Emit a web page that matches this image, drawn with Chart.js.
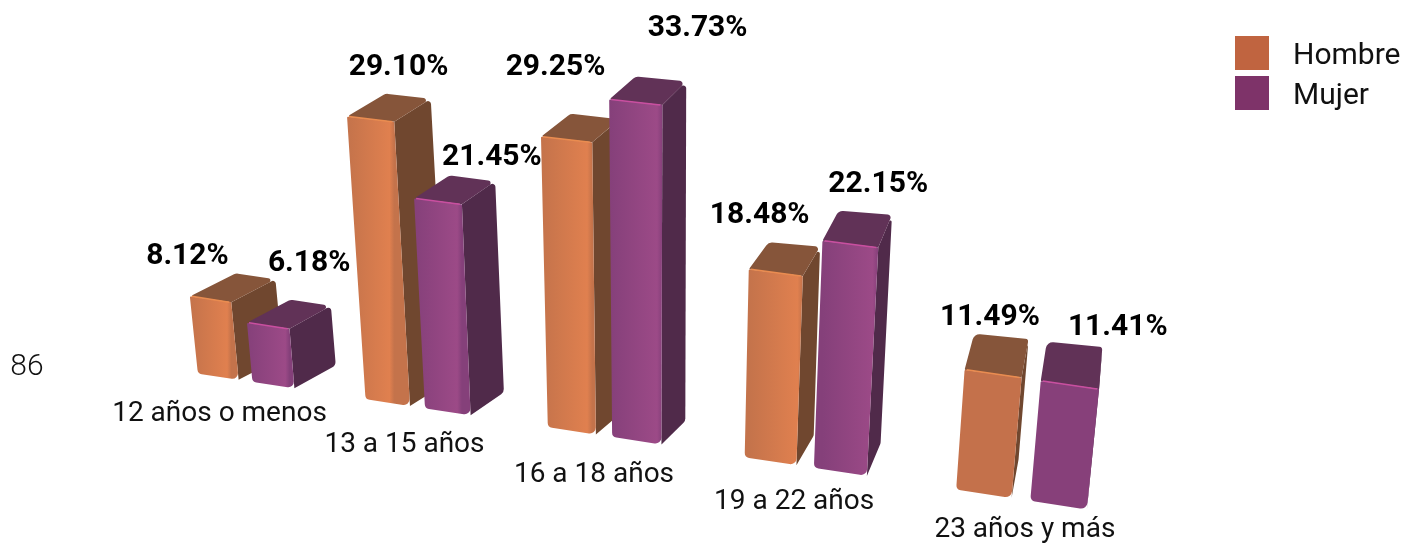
<!DOCTYPE html>
<html lang="es">
<head>
<meta charset="utf-8">
<title>Edad por sexo</title>
<script src="https://cdn.jsdelivr.net/npm/chart.js@4/dist/chart.umd.min.js"></script>
<style>
    html, body { margin: 0; padding: 0; background: #fff; }
    #wrap { position: relative; width: 1404px; height: 545px; overflow: hidden; }
</style>
</head>
<body>
<div id="wrap"><canvas id="edadChart"></canvas></div>
<script>
// Chart data
const categories = ['12 años o menos', '13 a 15 años', '16 a 18 años', '19 a 22 años', '23 años y más'];
const hombre = [8.12, 29.10, 29.25, 18.48, 11.49];
const mujer = [6.18, 21.45, 33.73, 22.15, 11.41];
const seriesNames = ['Hombre', 'Mujer'];
const strayLabel = '86';

// Look of each series
const looks = [
    { legend: '#c06440', left: '#c4734b', right: '#e0804f', flat: '#c4714b', top: '#86553a', side: '#70472f', edge: '#ea8c50' },
    { legend: '#7e3369', left: '#85407a', right: '#9c4a87', flat: '#87407a', top: '#613257', side: '#502a4a', edge: '#c94fa0' }
];

// Where the percent labels sit, relative to the top of the front face
const labelShift = [
    [[-23, -43], [28, -52], [-11, -72], [-16, -57], [-3, -56]],
    [[41, -62], [54, -44], [62, -74], [28, -60], [48, -57]]
];
const tickShift = [[-26, 33], [-13, 38], [-10, 39], [-11, 36], [4, 31]];

const midX = 606;
const step = 194;
const baseY = 436;

// Fake perspective: turns a flat chart position into a position in the picture
function project(x, y) {
    const h = baseY - y;
    const t = (x - midX) / step;
    const xb = x + 7.3 * t * t;
    const grow = 1 + (xb - midX) * 0.00012;
    return {
        x: 650 + (xb - 650) * (1 + 0.00023 * h * grow),
        y: baseY + 0.153 * (xb - midX) - h * grow
    };
}

function depthAt(x) {
    return { x: (1170 - x) * 0.047, y: -23 - Math.max(0, x - 650) * 0.042 };
}

function plus(p, d) {
    return { x: p.x + d.x, y: p.y + d.y };
}

// Closed path with rounded corners. The cut along each edge is clamped,
// otherwise sharp corners on thin faces throw spikes.
function shape(ctx, pts, radii) {
    const n = pts.length;
    ctx.beginPath();
    ctx.moveTo((pts[0].x + pts[n - 1].x) / 2, (pts[0].y + pts[n - 1].y) / 2);
    for (let i = 0; i < n; i++) {
        const a = pts[i];
        const b = pts[(i + 1) % n];
        const c = pts[(i + n - 1) % n];
        const lenB = Math.hypot(b.x - a.x, b.y - a.y);
        const lenC = Math.hypot(c.x - a.x, c.y - a.y);
        const cos = ((b.x - a.x) * (c.x - a.x) + (b.y - a.y) * (c.y - a.y)) / (lenB * lenC);
        const half = Math.tan(Math.acos(Math.max(-1, Math.min(1, cos))) / 2);
        const cut = Math.min(radii[i] / half, 7, lenB * 0.4, lenC * 0.4);
        ctx.arcTo(a.x, a.y, b.x, b.y, cut * half);
    }
    ctx.closePath();
}

const bars3d = {
    id: 'bars3d',
    afterDatasetsDraw(chart) {
        const ctx = chart.ctx;
        ctx.save();

        chart.data.datasets.forEach(function(ds, di) {
            const look = looks[di];
            chart.getDatasetMeta(di).data.forEach(function(bar, i) {
                const p = bar.getProps(['x', 'y', 'base', 'width'], true);
                const l = p.x - p.width / 2;
                const r = p.x + p.width / 2;
                const tl = project(l, p.y);
                const tr = project(r, p.y);
                const br = project(r, p.base);
                const bl = project(l, p.base);
                const d = depthAt(tr.x);
                const dl = depthAt(tl.x);

                // side face
                shape(ctx, [tr, plus(tr, d), plus(br, d), br], [0, 3, 6, 0]);
                ctx.fillStyle = look.side;
                ctx.fill();

                // top face
                shape(ctx, [tl, plus(tl, dl), plus(tr, d), tr], [1, 7, 3, 0]);
                ctx.fillStyle = look.top;
                ctx.fill();

                // front face, the shine fades out towards the far groups
                const g = ctx.createLinearGradient(tl.x, 0, tr.x, 0);
                const fade = i > 3;
                g.addColorStop(0, fade ? look.flat : look.left);
                g.addColorStop(0.9, fade ? look.flat : look.right);
                g.addColorStop(1, fade ? look.flat : look.left);
                shape(ctx, [tl, tr, br, bl], [1, 1, 7, 5]);
                ctx.fillStyle = g;
                ctx.fill();

                // bright line on the top edge
                ctx.beginPath();
                ctx.moveTo(tl.x + 2, tl.y);
                ctx.lineTo(tr.x - 2, tr.y);
                ctx.strokeStyle = look.edge;
                ctx.lineWidth = 1.5;
                ctx.stroke();
            });
        });

        // percent labels go on top of all the bars
        ctx.fillStyle = '#000';
        ctx.textAlign = 'center';
        ctx.textBaseline = 'middle';
        ctx.font = '700 30px Roboto';
        chart.data.datasets.forEach(function(ds, di) {
            chart.getDatasetMeta(di).data.forEach(function(bar, i) {
                const top = project(bar.x, bar.y);
                const s = labelShift[di][i];
                ctx.fillText(ds.data[i].toFixed(2) + '%', top.x + s[0], top.y + s[1]);
            });
        });

        // category labels follow the slanted floor
        ctx.font = '400 28px Roboto';
        ctx.fillStyle = '#111';
        const xScale = chart.scales.x;
        const yScale = chart.scales.y;
        categories.forEach(function(name, i) {
            const foot = project(xScale.getPixelForValue(i), yScale.getPixelForValue(0));
            ctx.fillText(name, foot.x + tickShift[i][0], foot.y + tickShift[i][1]);
        });

        ctx.font = '300 30px Roboto';
        ctx.fillText(strayLabel, 27, 367);

        // legend
        ctx.textAlign = 'left';
        ctx.font = '400 30px Roboto';
        chart.data.datasets.forEach(function(ds, di) {
            const top = 36 + di * 40;
            ctx.fillStyle = looks[di].legend;
            ctx.fillRect(1235, top, 34, 34);
            ctx.fillStyle = '#111';
            ctx.fillText(ds.label, 1293, top + 20);
        });

        ctx.restore();
    }
};

new Chart(document.getElementById('edadChart'), {
    type: 'bar',
    data: {
        labels: categories,
        datasets: [
            { label: seriesNames[0], data: hombre, backgroundColor: 'transparent', categoryPercentage: 0.67, barPercentage: 0.75 },
            { label: seriesNames[1], data: mujer, backgroundColor: 'transparent', categoryPercentage: 0.67, barPercentage: 0.75 }
        ]
    },
    options: {
        responsive: true,
        maintainAspectRatio: false,
        animation: false,
        layout: {
            padding: { left: 119, right: 315, top: 36, bottom: 109 }
        },
        plugins: {
            legend: { display: false },
            tooltip: { enabled: false }
        },
        scales: {
            x: { display: false, grid: { display: false } },
            y: { display: false, min: 0, max: 40, grid: { display: false } }
        }
    },
    plugins: [bars3d]
});
</script>
</body>
</html>
